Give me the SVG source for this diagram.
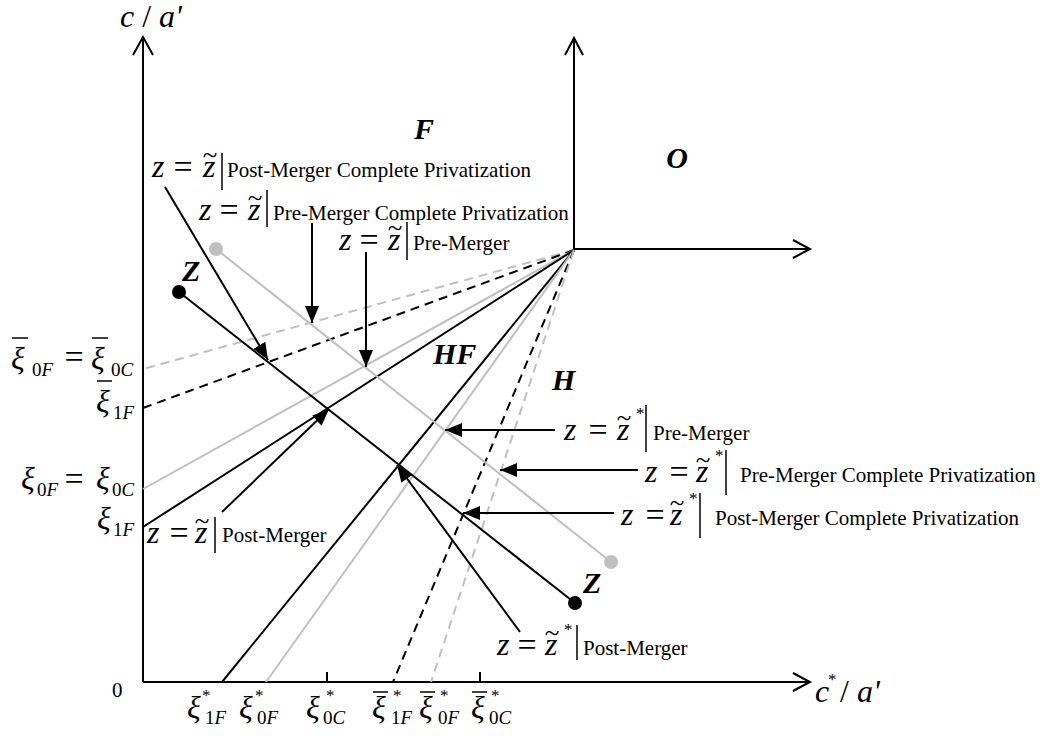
<svg xmlns="http://www.w3.org/2000/svg" width="1045" height="738" viewBox="0 0 1045 738">
<style>
.ax{stroke:#000;stroke-width:2;fill:none}
.bk{stroke:#000;stroke-width:2;fill:none}
.gr{stroke:#bfbfbf;stroke-width:2;fill:none}
.ds{stroke-dasharray:9 6}
.pt{stroke:#000;stroke-width:2;fill:none;marker-end:url(#ah)}
.m{font-family:"Liberation Serif",serif;font-style:italic;font-size:32px}
.eq{font-family:"Liberation Serif",serif;font-size:34px;text-anchor:middle}
.tl{font-family:"Liberation Serif",serif;font-size:27px;text-anchor:middle}
.st{font-family:"Liberation Serif",serif;font-size:17px}
.t{font-family:"Liberation Serif",serif;font-size:21px}
.xi{font-family:"Liberation Serif",serif;font-style:italic;font-size:32px}
.sb{font-family:"Liberation Serif",serif;font-style:italic;font-size:19px}
.up{font-style:normal}
.lb{font-family:"Liberation Serif",serif;font-weight:bold;font-style:italic;font-size:30px}
.bar{stroke:#000;stroke-width:1.5}
</style>
<defs>
<marker id="ah" markerUnits="userSpaceOnUse" markerWidth="18" markerHeight="14" refX="17" refY="7" orient="auto">
<path d="M0,0 L17,7 L0,14 z" fill="#000"/>
</marker>
</defs>

<g id="axes">
<line class="ax" x1="143" y1="682" x2="143" y2="38"/>
<polyline class="ax" points="133,55 143,37 153,55"/>
<line class="ax" x1="143" y1="682" x2="809" y2="682"/>
<polyline class="ax" points="793,673 810,682 793,691"/>
<line class="ax" x1="574" y1="250" x2="574" y2="39"/>
<polyline class="ax" points="565,55 574,38 583,55"/>
<line class="ax" x1="573" y1="249" x2="809" y2="249"/>
<polyline class="ax" points="793,240 810,249 793,258"/>
<line class="ax" x1="327" y1="672" x2="327" y2="682"/>
<line class="ax" x1="480" y1="672" x2="480" y2="682"/>
</g>

<g id="connectors">
<line class="gr ds" x1="574" y1="250" x2="143" y2="369"/>
<line class="bk ds" x1="574" y1="250" x2="143" y2="408"/>
<line class="gr" x1="574" y1="250" x2="143" y2="489"/>
<line class="bk" x1="574" y1="250" x2="143" y2="527"/>
<line class="bk" x1="574" y1="250" x2="222" y2="682"/>
<line class="gr" x1="574" y1="250" x2="266" y2="682"/>
<line class="bk ds" x1="574" y1="250" x2="393" y2="682"/>
<line class="gr ds" x1="574" y1="250" x2="431" y2="682"/>
<line class="gr" x1="216" y1="249" x2="611" y2="562"/>
<line class="bk" x1="179" y1="292" x2="575" y2="603"/>
<line class="pt" x1="165" y1="187" x2="268" y2="360"/>
<line class="pt" x1="312" y1="223" x2="312" y2="323"/>
<line class="pt" x1="366" y1="252" x2="366" y2="367"/>
<line class="pt" x1="222" y1="512" x2="329" y2="409"/>
<line class="pt" x1="555" y1="430" x2="445" y2="430"/>
<line class="pt" x1="638" y1="470" x2="500" y2="470"/>
<line class="pt" x1="614" y1="513" x2="463" y2="513"/>
<line class="pt" x1="520" y1="632" x2="397" y2="465"/>
</g>

<g id="points">
<circle cx="216" cy="249" r="7" fill="#bfbfbf"/>
<circle cx="611" cy="562" r="7" fill="#bfbfbf"/>
<circle cx="179" cy="292" r="7" fill="#000"/>
<circle cx="575" cy="603" r="7" fill="#000"/>
</g>

<g id="region-labels">
<text class="lb" x="424" y="139" text-anchor="middle">F</text>
<text class="lb" x="677" y="168" text-anchor="middle">O</text>
<text class="lb" x="433" y="364">HF</text>
<text class="lb" x="552" y="390">H</text>
<text class="lb" x="182" y="281" font-size="28">Z</text>
<text class="lb" x="583" y="593" font-size="28" font-style="normal">Z</text>
</g>

<g id="axis-labels">
<text class="m" x="120" y="27" font-size="27">c <tspan class="up">/</tspan> a'</text>
<text class="m" x="815" y="702" font-size="27">c</text>
<text class="st" x="828" y="685">*</text>
<text class="m" x="840" y="702" font-size="27"> <tspan class="up">/</tspan> a'</text>
<text class="t" x="112" y="697" font-size="24">0</text>
</g>

<g id="left-labels">
<text class="xi" x="11" y="369">ξ</text><line class="bar" x1="12" y1="338" x2="28" y2="338"/>
<text class="sb" x="32" y="376"><tspan class="up">0</tspan>F</text>
<text class="eq" x="74" y="368">=</text>
<text class="xi" x="91" y="369">ξ</text><line class="bar" x1="92" y1="338" x2="108" y2="338"/>
<text class="sb" x="111" y="376"><tspan class="up">0</tspan>C</text>
<text class="xi" x="96" y="412">ξ</text><line class="bar" x1="97" y1="381" x2="112" y2="381"/>
<text class="sb" x="113" y="419"><tspan class="up">1</tspan>F</text>
<text class="xi" x="21" y="489">ξ</text>
<text class="sb" x="37" y="496"><tspan class="up">0</tspan>F</text>
<text class="eq" x="74" y="490">=</text>
<text class="xi" x="96" y="489">ξ</text>
<text class="sb" x="112" y="496"><tspan class="up">0</tspan>C</text>
<text class="xi" x="97" y="529">ξ</text>
<text class="sb" x="113" y="536"><tspan class="up">1</tspan>F</text>
</g>

<g id="bottom-labels">
<text class="xi" x="187" y="718">ξ</text><text class="st" x="202" y="701">*</text>
<text class="sb" x="205" y="724"><tspan class="up">1</tspan>F</text>
<text class="xi" x="239" y="718">ξ</text><text class="st" x="255" y="701">*</text>
<text class="sb" x="257" y="724"><tspan class="up">0</tspan>F</text>
<text class="xi" x="306" y="718">ξ</text><text class="st" x="326" y="701">*</text>
<text class="sb" x="323" y="724"><tspan class="up">0</tspan>C</text>
<text class="xi" x="372" y="718">ξ</text><line class="bar" x1="373" y1="692" x2="388" y2="692"/><text class="st" x="393" y="701">*</text>
<text class="sb" x="391" y="724"><tspan class="up">1</tspan>F</text>
<text class="xi" x="419" y="718">ξ</text><line class="bar" x1="420" y1="692" x2="435" y2="692"/><text class="st" x="440" y="701">*</text>
<text class="sb" x="438" y="724"><tspan class="up">0</tspan>F</text>
<text class="xi" x="471" y="718">ξ</text><line class="bar" x1="472" y1="692" x2="487" y2="692"/><text class="st" x="491" y="701">*</text>
<text class="sb" x="489" y="724"><tspan class="up">0</tspan>C</text>
</g>

<g id="label-post-cp">
<text class="m" x="152" y="177">z</text><text class="eq" x="183" y="178">=</text>
<text class="m" x="203" y="177">z</text><text class="tl" x="210" y="164">~</text>
<line class="bar" x1="222" y1="153" x2="222" y2="190"/>
<text class="t" x="227" y="177">Post-Merger Complete Privatization</text>
</g>
<g id="label-pre-cp">
<text class="m" x="199" y="220">z</text><text class="eq" x="229" y="221">=</text>
<text class="m" x="248" y="220">z</text><text class="tl" x="255" y="207">~</text>
<line class="bar" x1="267" y1="190" x2="267" y2="227"/>
<text class="t" x="273" y="220">Pre-Merger Complete Privatization</text>
</g>
<g id="label-pre">
<text class="m" x="339" y="250">z</text><text class="eq" x="369" y="251">=</text>
<text class="m" x="388" y="250">z</text><text class="tl" x="395" y="237">~</text>
<line class="bar" x1="407" y1="222" x2="407" y2="260"/>
<text class="t" x="413" y="250">Pre-Merger</text>
</g>
<g id="label-post">
<text class="m" x="147" y="543">z</text><text class="eq" x="179" y="544">=</text>
<text class="m" x="195" y="543">z</text><text class="tl" x="202" y="530">~</text>
<line class="bar" x1="215" y1="517" x2="215" y2="553"/>
<text class="t" x="222" y="542">Post-Merger</text>
</g>
<g id="label-star-pre">
<text class="m" x="564" y="440">z</text><text class="eq" x="598" y="441">=</text>
<text class="m" x="617" y="440">z</text><text class="tl" x="624" y="427">~</text><text class="st" x="636" y="419">*</text>
<line class="bar" x1="646" y1="405" x2="646" y2="452"/>
<text class="t" x="653" y="440">Pre-Merger</text>
</g>
<g id="label-star-pre-cp">
<text class="m" x="645" y="482">z</text><text class="eq" x="679" y="483">=</text>
<text class="m" x="696" y="482">z</text><text class="tl" x="703" y="469">~</text><text class="st" x="715" y="461">*</text>
<line class="bar" x1="726" y1="450" x2="726" y2="495"/>
<text class="t" x="740" y="482">Pre-Merger Complete Privatization</text>
</g>
<g id="label-star-post-cp">
<text class="m" x="621" y="525">z</text><text class="eq" x="655" y="526">=</text>
<text class="m" x="670" y="525">z</text><text class="tl" x="677" y="512">~</text><text class="st" x="689" y="504">*</text>
<line class="bar" x1="700" y1="493" x2="700" y2="538"/>
<text class="t" x="715" y="525">Post-Merger Complete Privatization</text>
</g>
<g id="label-star-post">
<text class="m" x="497" y="655">z</text><text class="eq" x="527" y="656">=</text>
<text class="m" x="545" y="655">z</text><text class="tl" x="552" y="642">~</text><text class="st" x="564" y="635">*</text>
<line class="bar" x1="577" y1="625" x2="577" y2="660"/>
<text class="t" x="583" y="655">Post-Merger</text>
</g>
</svg>
